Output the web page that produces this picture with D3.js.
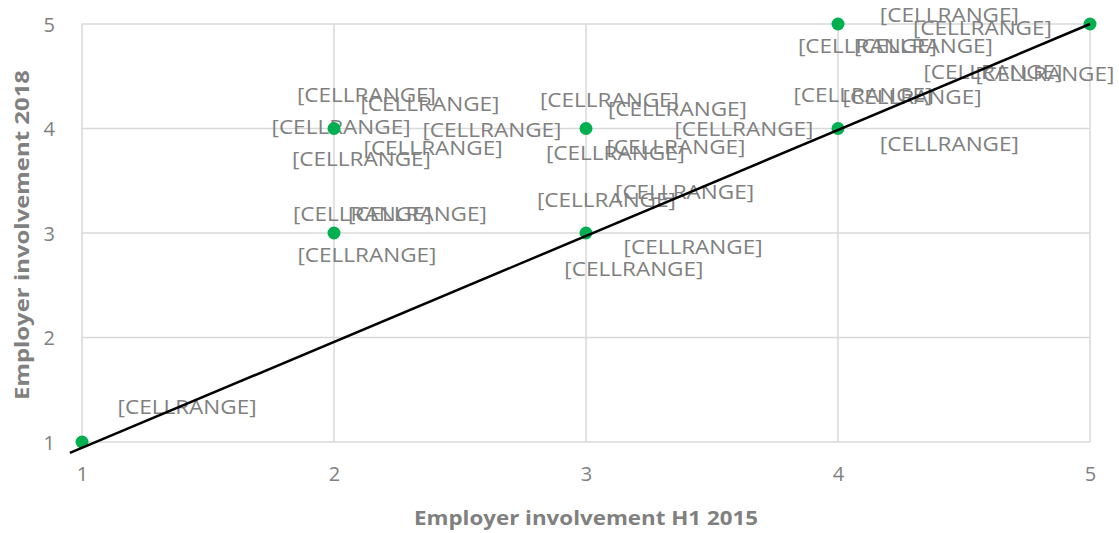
<!DOCTYPE html>
<html>
<head>
<meta charset="utf-8">
<script src="https://cdn.jsdelivr.net/npm/d3@7"></script>
<style>
  body { margin: 0; background: #fff; }
  svg { display: block; font-family: "Open Sans", "Liberation Sans", sans-serif; }
</style>
</head>
<body>
<div class="visHolder"></div>
<script>
// Data points (employer involvement scores)
var pointX = [1, 2, 2, 3, 3, 4, 4, 5];
var pointY = [1, 3, 4, 3, 4, 4, 5, 5];

// Data label text and where each label sits (in data units)
var labelText = '[CELLRANGE]';
var labelX = [1.417, 2.129, 2.381, 2.028, 2.627, 2.393, 2.109, 2.113, 2.331, 2.131,
  3.093, 3.363, 3.627, 3.357, 3.117, 3.081, 3.391, 3.425, 3.190,
  4.442, 4.573, 4.117, 4.339, 4.615, 4.821, 4.099, 4.294, 4.442];
var labelY = [1.335, 4.321, 4.234, 4.014, 3.986, 3.813, 3.708, 3.182, 3.182, 2.789,
  4.273, 4.187, 3.995, 3.823, 3.766, 3.316, 3.392, 2.866, 2.656,
  5.086, 4.962, 4.789, 4.789, 4.541, 4.522, 4.321, 4.301, 3.852];

// Linear trendline end points
var trendX = [0.952, 5];
var trendY = [0.895, 5];

// Tick values and titles
var xTicks = [1, 2, 3, 4, 5];
var yTicks = [1, 2, 3, 4, 5];
var xTitle = 'Employer involvement H1 2015';
var yTitle = 'Employer involvement  2018';

// Dimensions
var width = 1119,
height = 533;

var svg = d3.select('.visHolder').
append('svg').
attr('width', width).
attr('height', height);

var xScale = d3.scaleLinear().domain([1, 5]).range([82, 1090]);
var yScale = d3.scaleLinear().domain([1, 5]).range([442, 24]);

// Gridlines
svg.append('g').
selectAll('line').
data(xTicks).
enter().
append('line').
attr('x1', function (d) { return xScale(d); }).
attr('x2', function (d) { return xScale(d); }).
attr('y1', yScale(1)).
attr('y2', yScale(5)).
style('stroke', '#d9d9d9').
style('stroke-width', 1.5);

svg.append('g').
selectAll('line').
data(yTicks).
enter().
append('line').
attr('x1', xScale(1)).
attr('x2', xScale(5)).
attr('y1', function (d) { return yScale(d); }).
attr('y2', function (d) { return yScale(d); }).
style('stroke', '#d9d9d9').
style('stroke-width', 1.5);

// Axes (tick labels only)
var xAxis = d3.axisBottom(xScale).tickValues(xTicks).tickSize(0).tickPadding(25).tickFormat(d3.format('d'));
var yAxis = d3.axisLeft(yScale).tickValues(yTicks).tickSize(0).tickPadding(27).tickFormat(d3.format('d'));

var xAxisGroup = svg.append('g').
attr('transform', 'translate(0,' + yScale(1) + ')').
call(xAxis);

var yAxisGroup = svg.append('g').
attr('transform', 'translate(' + xScale(1) + ',0)').
call(yAxis);

[xAxisGroup, yAxisGroup].forEach(function (g) {
  g.select('.domain').remove();
  g.selectAll('text').
  style('font-size', '20px').
  style('font-family', '"Open Sans", sans-serif').
  attr('fill', '#808080');
});
yAxisGroup.selectAll('text').attr('dy', '0.35em');

// Data labels
svg.append('g').
selectAll('text').
data(labelX).
enter().
append('text').
attr('x', function (d) { return xScale(d); }).
attr('y', function (d, i) { return yScale(labelY[i]); }).
attr('text-anchor', 'middle').
attr('dy', '0.36em').
attr('textLength', 139).
attr('lengthAdjust', 'spacingAndGlyphs').
style('font-size', '20px').
style('fill', '#808080').
text(labelText);

// Points
svg.append('g').
selectAll('circle').
data(pointX).
enter().
append('circle').
attr('cx', function (d) { return xScale(d); }).
attr('cy', function (d, i) { return yScale(pointY[i]); }).
attr('r', 6.5).
style('fill', '#00b050');

// Trendline
svg.append('line').
attr('x1', xScale(trendX[0])).
attr('y1', yScale(trendY[0])).
attr('x2', xScale(trendX[1])).
attr('y2', yScale(trendY[1])).
style('stroke', '#000').
style('stroke-width', 2.5);

// Axis titles
svg.append('text').
attr('x', 586).
attr('y', 525).
attr('text-anchor', 'middle').
attr('textLength', 344).
attr('lengthAdjust', 'spacingAndGlyphs').
style('font-size', '20px').
style('font-weight', 'bold').
style('fill', '#808080').
text(xTitle);

svg.append('text').
attr('transform', 'translate(29,235) rotate(-90)').
attr('text-anchor', 'middle').
attr('textLength', 330).
attr('lengthAdjust', 'spacingAndGlyphs').
style('font-size', '20px').
style('font-weight', 'bold').
style('fill', '#808080').
text(yTitle);
</script>
</body>
</html>
